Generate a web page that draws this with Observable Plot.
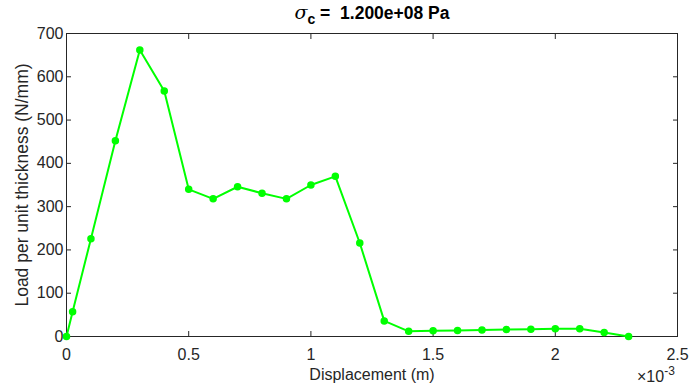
<!DOCTYPE html>
<html>
<head>
<meta charset="utf-8">
<script src="https://cdn.jsdelivr.net/npm/d3@7"></script>
<script src="https://cdn.jsdelivr.net/npm/@observablehq/plot@0.6"></script>
<style>
  html, body { margin: 0; padding: 0; background: #fff; }
  #wrap { position: relative; width: 691px; height: 391px; font-family: "Liberation Sans", Arial, sans-serif; overflow: hidden; }
  #title { position: absolute; left: 0; top: 0; width: 691px; height: 25px; }
  #title .t { position: absolute; left: 372px; transform: translateX(-50%); top: 0px; font-weight: bold; font-size: 17.5px; color: #000; white-space: nowrap; line-height: 24px; }
  #chart { position: absolute; left: 0; top: 25px; }
  #exp { position: absolute; left: 637px; top: 368px; font-size: 16px; color: #262626; line-height: 18px; white-space: nowrap; }
</style>
</head>
<body>
<div id="wrap">
  <div id="title"><span class="t"><i style="font-family:'DejaVu Serif',serif;font-weight:normal;font-size:19px;">σ</i><span style="font-size:14px;position:relative;top:5px;">c</span> =&nbsp; 1.200e+08 Pa</span></div>
  <div id="chart"></div>
  <div id="exp">×10<span style="font-size:12px;position:relative;top:-7px;">-3</span></div>
</div>
<script>
// Displacement (×10^-3 m)
const displacement = [0, 0.025, 0.1, 0.2, 0.3, 0.4, 0.5, 0.6, 0.7, 0.8, 0.9, 1.0, 1.1, 1.2, 1.3, 1.4, 1.5, 1.6, 1.7, 1.8, 1.9, 2.0, 2.1, 2.2, 2.3];
// Load per unit thickness (N/mm)
const load = [0, 57, 226, 452, 662, 567, 340, 318, 346, 331, 318, 350, 370, 216, 36, 12, 13, 14, 15, 16, 17, 18, 18, 9, 0];
const xTicks = [0, 0.5, 1, 1.5, 2, 2.5];
const yTicks = [0, 100, 200, 300, 400, 500, 600, 700];
const xLabel = "Displacement (m)";
const yLabel = "Load per unit thickness (N/mm)";

const data = displacement.map((d, i) => ({x: d, y: load[i]}));
const axisColor = "#262626";
const blank = () => "";

const chart = Plot.plot({
  width: 691,
  height: 366,
  marginLeft: 66,
  marginRight: 14,
  marginTop: 8,
  marginBottom: 55,
  style: {fontFamily: "'Liberation Sans', Arial, sans-serif", fontSize: "16px", color: axisColor, background: "#fff"},
  x: {domain: [0, 2.5]},
  y: {domain: [0, 700]},
  marks: [
    Plot.frame({stroke: axisColor, strokeWidth: 1}),
    Plot.axisX(xTicks, {anchor: "bottom", tickSize: -5, tickPadding: 17, stroke: axisColor, fill: axisColor, fontSize: 16, tickFormat: d => String(d), label: null}),
    Plot.axisX(xTicks, {anchor: "top", tickSize: -5, tickFormat: blank, stroke: axisColor, label: null}),
    Plot.axisY(yTicks, {anchor: "left", tickSize: -5, tickPadding: 8, stroke: axisColor, fill: axisColor, fontSize: 16, tickFormat: d => String(d), label: null}),
    Plot.axisY(yTicks, {anchor: "right", tickSize: -5, tickFormat: blank, stroke: axisColor, label: null}),
    Plot.text([xLabel], {text: d => d, frameAnchor: "bottom", textAnchor: "middle", lineAnchor: "middle", dy: 38, fontSize: 16, fill: axisColor}),
    Plot.text([yLabel], {text: d => d, frameAnchor: "left", textAnchor: "middle", lineAnchor: "middle", rotate: -90, dx: -44, fontSize: 17.5, fill: axisColor}),
    Plot.line(data, {x: "x", y: "y", stroke: "#00ff00", strokeWidth: 2}),
    Plot.dot(data, {x: "x", y: "y", r: 3, fill: "#00ff00", stroke: "#00ff00"})
  ]
});
document.getElementById("chart").appendChild(chart);
</script>
</body>
</html>
